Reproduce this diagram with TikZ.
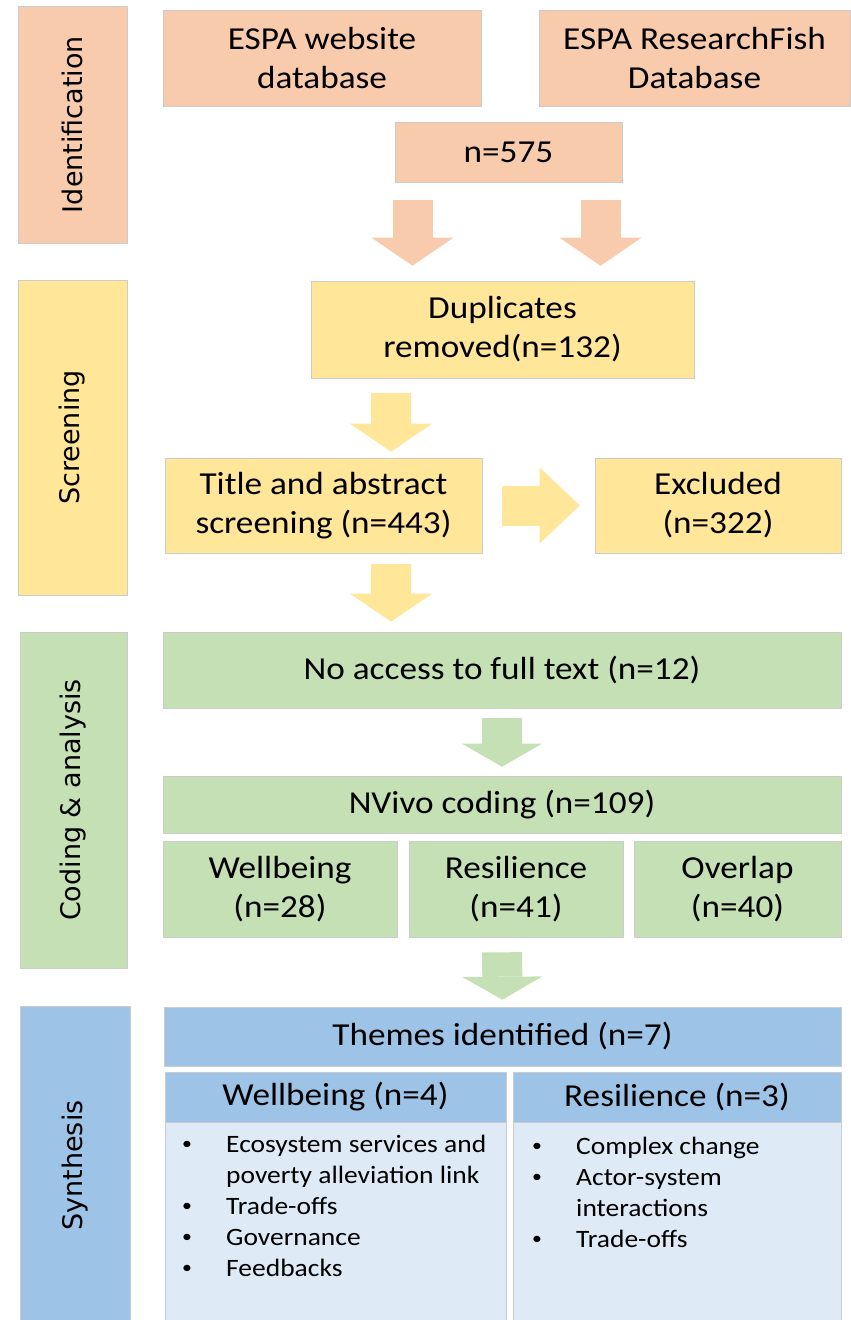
\documentclass[tikz,border=0pt]{standalone}
\usepackage{fontspec}
\setmainfont{Carlito}[FakeStretch=1.1]
\newfontfamily\stagefont{DejaVu Sans}
\usepackage{tikz}
\usetikzlibrary{positioning,arrows.meta}

\definecolor{idcol}{HTML}{F8CBAD}
\definecolor{scrcol}{HTML}{FFE699}
\definecolor{codecol}{HTML}{C5E0B4}
\definecolor{syncol}{HTML}{9DC3E6}
\definecolor{synlight}{HTML}{DEEBF7}

\newcommand{\smallbullet}{\raisebox{3pt}{\fontsize{18}{18}\selectfont\textbullet}}

\begin{document}
\begin{tikzpicture}[
			x=1pt, y=-1pt,
			box/.style={rectangle, draw=black!20, line width=0.6pt, inner sep=0pt, align=center, font=\fontsize{32}{39}\selectfont},
			idbox/.style={box, fill=idcol},
			scrbox/.style={box, fill=scrcol},
			codebox/.style={box, fill=codecol},
			synbox/.style={box, fill=syncol},
			listbox/.style={box, fill=synlight},
			stagelabel/.style={box, rotate=90, font=\stagefont\fontsize{27}{32}\selectfont},
			bulletlist/.style={inner sep=0pt, anchor=base west, align=left, font=\fontsize{25}{31}\selectfont},
			fatarrow/.style={line width=40pt, -{Triangle[width=82pt, length=28pt, line width=0pt]}},
			]
			\useasboundingbox (0,0) rectangle (851,1320);

			%Stage labels
			\node[stagelabel, fill=idcol, minimum width=237pt, minimum height=109pt] (idlab) at (72.5,124.5) {Identification};
			\node[stagelabel, fill=scrcol, minimum width=315pt, minimum height=109pt] (scrlab) at (72.5,437.5) {Screening};
			\node[stagelabel, fill=codecol, minimum width=336pt, minimum height=107pt] (codelab) at (73.5,800) {Coding \& analysis};
			\node[stagelabel, fill=syncol, minimum width=319pt, minimum height=110pt] (synlab) at (75,1165.5) {Synthesis};

			%Nodes
			\node[idbox, minimum width=318pt, minimum height=96pt] (espaweb) at (322,58) {ESPA website\\database};
			\node[idbox, minimum width=311pt, minimum height=96pt] (espafish) at (694.5,58) {ESPA ResearchFish\\Database};
			\node[idbox, minimum width=227pt, minimum height=60pt] (total) at (508.5,152) {n=575};

			\node[scrbox, minimum width=383pt, minimum height=97pt] (dupl) at (502.5,329.5) {Duplicates\\removed(n=132)};
			\node[scrbox, minimum width=317pt, minimum height=95pt] (title) at (323.5,505.5) {Title and abstract\\screening (n=443)};
			\node[scrbox, minimum width=246pt, minimum height=95pt] (excl) at (718,505.5) {Excluded\\(n=322)};

			\node[codebox, minimum width=678pt, minimum height=76pt] (noacc) at (502,670) {No access to full text (n=12)};
			\node[codebox, minimum width=678pt, minimum height=57pt] (nvivo) at (502,804.5) {NVivo coding (n=109)};
			\node[codebox, minimum width=234pt, minimum height=96pt] (wellb) at (280,889) {Wellbeing\\(n=28)};
			\node[codebox, minimum width=214pt, minimum height=96pt] (resil) at (516,889) {Resilience\\(n=41)};
			\node[codebox, minimum width=207pt, minimum height=96pt] (overl) at (737.5,889) {Overlap\\(n=40)};

			\node[synbox, minimum width=677pt, minimum height=59pt] (themes) at (502.5,1036.5) {Themes identified (n=7)};
			\node[synbox, minimum width=341pt, minimum height=50pt] (wbhead) at (335.5,1097) {Wellbeing (n=4)};
			\node[listbox, minimum width=341pt, minimum height=203pt, anchor=north] (wbbody) at (wbhead.south) {};
			\node[synbox, minimum width=328pt, minimum height=50pt] (rshead) at (677,1097) {Resilience (n=3)};
			\node[listbox, minimum width=328pt, minimum height=203pt, anchor=north] (rsbody) at (rshead.south) {};

			\node[bulletlist] (wblist) at (182,1152) {\begin{tabular}[t]{@{}p{44pt}@{}l@{}}
				\smallbullet & Ecosystem services and\\
				 & poverty alleviation link\\
				\smallbullet & Trade-offs\\
				\smallbullet & Governance\\
				\smallbullet & Feedbacks
			\end{tabular}};
			\node[bulletlist] (rslist) at (532,1154) {\begin{tabular}[t]{@{}p{44pt}@{}l@{}}
				\smallbullet & Complex change\\
				\smallbullet & Actor-system\\
				 & interactions\\
				\smallbullet & Trade-offs
			\end{tabular}};

			%Arrows
			\draw[fatarrow, idcol, shorten <=18pt, shorten >=15pt] ([xshift=-96pt]total.south) -- ([xshift=-96pt]total.south |- dupl.north);
			\draw[fatarrow, idcol, shorten <=18pt, shorten >=15pt] ([xshift=92pt]total.south) -- ([xshift=92pt]total.south |- dupl.north);
			\draw[fatarrow, scrcol, shorten <=15pt, shorten >=6pt] ([xshift=67.5pt]title.north |- dupl.south) -- ([xshift=67.5pt]title.north);
			\draw[fatarrow, scrcol, shorten <=11pt, shorten >=10pt] ([xshift=67.5pt]title.south) -- ([xshift=67.5pt]title.south |- noacc.north);
			\draw[fatarrow, scrcol, shorten <=20pt, shorten >=15pt, -{Triangle[width=76pt, length=40pt, line width=0pt]}] (title.east) -- (excl.west);
			\draw[fatarrow, codecol, shorten <=10pt, shorten >=9pt, -{Triangle[width=80pt, length=23pt, line width=0pt]}] (noacc.south) -- (nvivo.north);
			\draw[fatarrow, codecol, shorten <=15pt, shorten >=7pt, -{Triangle[width=80pt, length=23pt, line width=0pt]}] (nvivo.south |- resil.south) -- (themes.north);
		\end{tikzpicture}
\end{document}
